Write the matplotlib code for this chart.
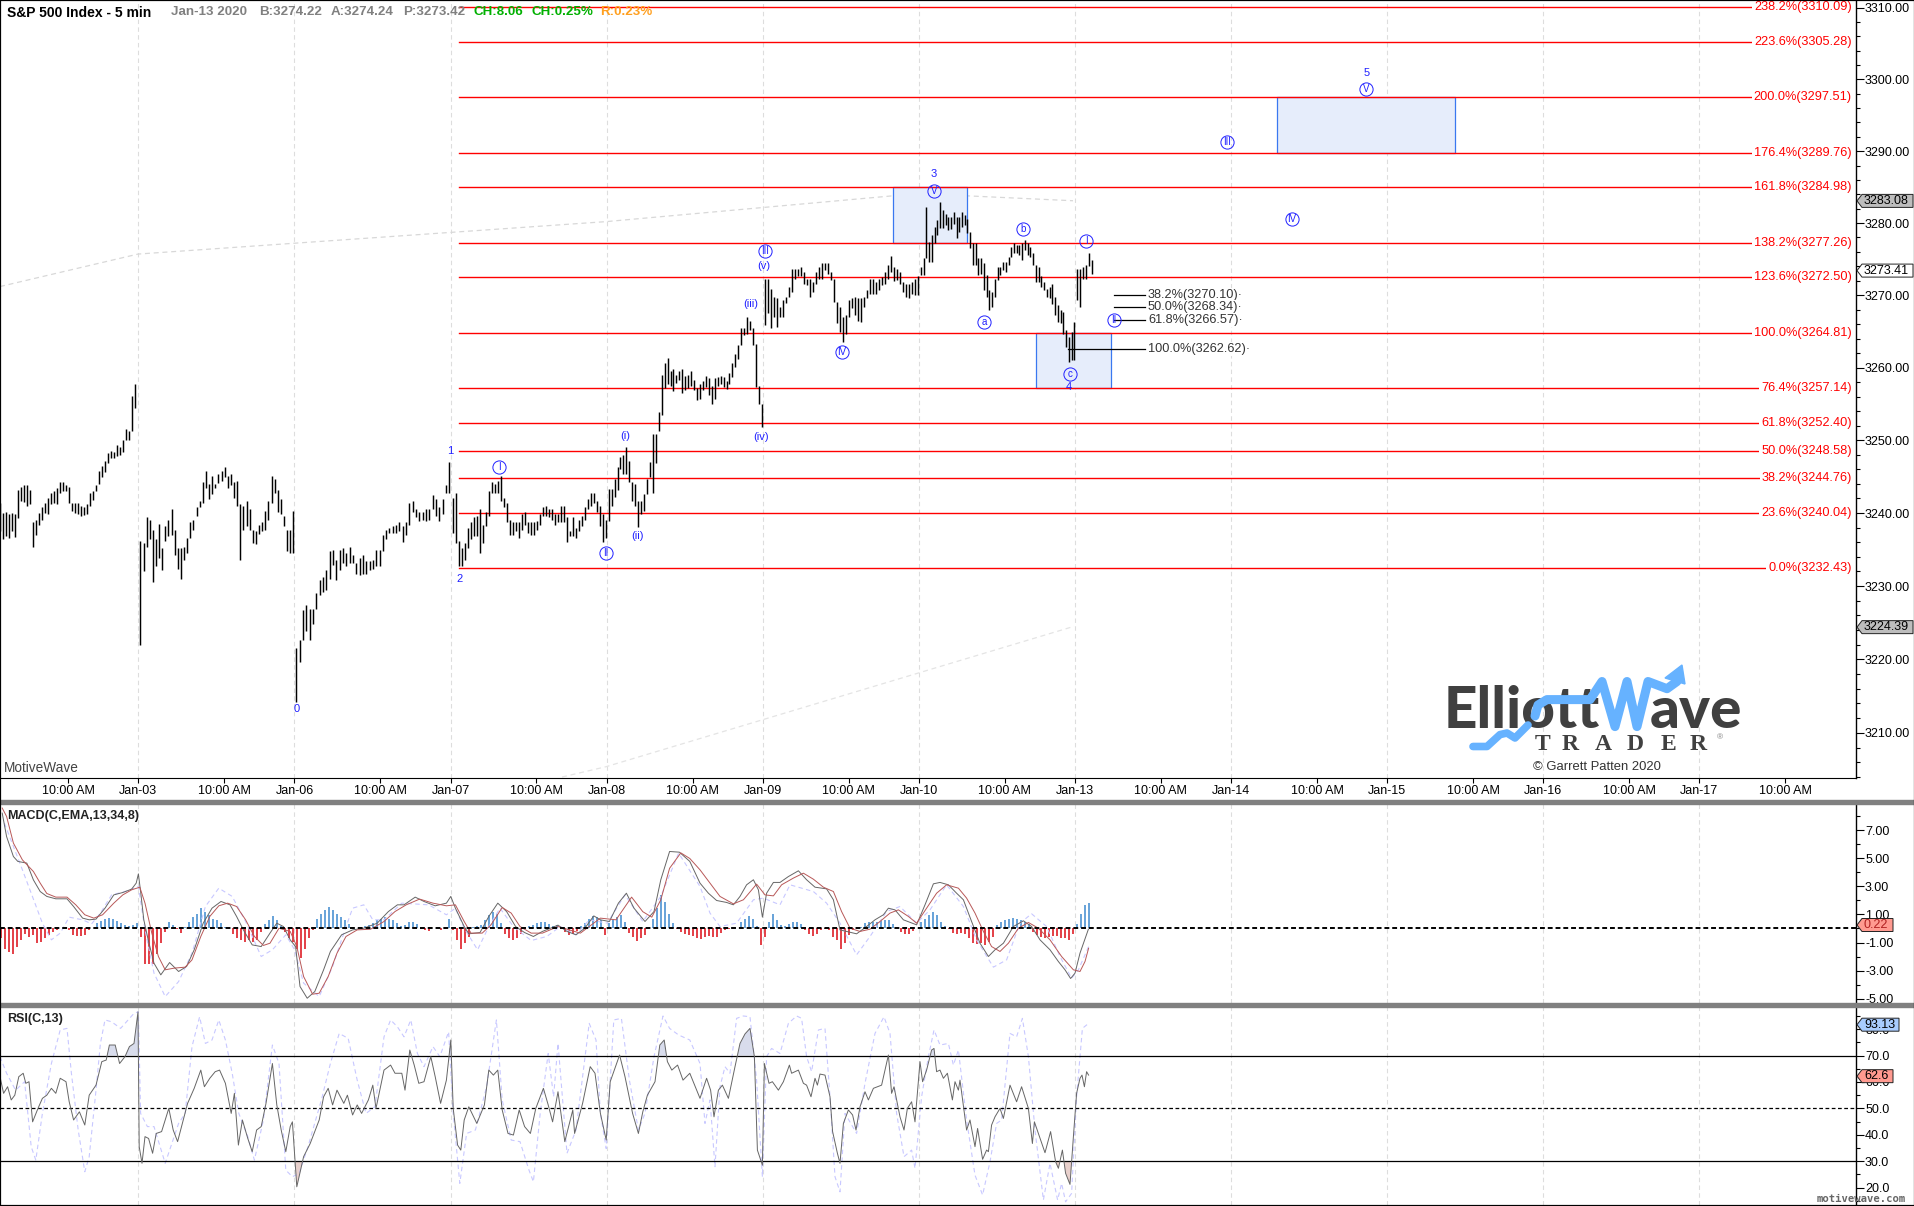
# -*- coding: utf-8 -*-
import matplotlib
matplotlib.use('Agg')
import matplotlib.pyplot as plt
import numpy as np
from matplotlib.lines import Line2D
from matplotlib.patches import Polygon, Rectangle
from matplotlib.ticker import MultipleLocator, FixedLocator, FormatStrFormatter, NullFormatter

plt.rcParams['font.family'] = ['Liberation Sans', 'DejaVu Sans']

W, H = 1915, 1206
BASE = 3200  # bar arrays are points above this
BASE_LATE = 3199.8

# 5 min bars per session, highs and lows above BASE
jan02_high = [41.4,40,40.2,39.8,40,39.8,43.2,43.6,43.8,43.8,43.2,38.8,39,40,40.8,41.4,42,42.8,43,43.4,44.3,44.2,43.8,43.6,41.4,41.4,41.4,41,40.8,41.3,42.8,43,43.8,45.7,46.4,47.2,48.3,48.5,48.4,49.3,49.1,50,51.6,51.3,56.1,57.8]
jan02_low = [37.5,36.5,36.8,36.6,37.5,36.7,39.3,41.6,41.5,41,41.2,35.4,37,38.3,39,40,39.8,41.2,41.4,41.3,42.8,43,43,41.4,40.3,40,39.8,39.6,39.7,39.8,41,41.8,43,44,45,45.6,46.8,47.5,47.5,47.8,48,48.4,50,50,51.3,54.4]
jan03_high = [36.1,35.9,39.4,39.1,37.7,36.4,38.5,35.2,38.2,39.1,40.5,37.7,35.2,35.2,35.4,36.6,38.7,39.1,40.8,41.7,44.2,45.8,44,45.1,44,45.4,45.7,46.3,45.1,45.4,44.2,44.4,41.2,41,41.7,40.5,37.7,37.5,38.4,38.7,40.3,41.7,45.1,44.7,43.1,41.9,39.6,37.7,37.7,40.3]
jan03_low = [22,32,35.4,36.4,30.6,32.7,33.8,32.2,36.1,36.8,37,34.3,32.4,31,33.6,34.5,36.6,37.7,39.6,40.8,41.4,43.5,41.9,42.6,43.5,44.1,44.4,44.9,43.5,43.8,42.1,40.9,33.6,37.7,38.2,37.7,35.9,35.7,37.1,37.5,37.7,39.1,41.4,42.8,40.1,39.8,38.2,34.8,34.5,34.5]
jan06_high = [21.6,22.7,26.7,27.4,26.9,26.9,29,30.8,31.3,32.2,34.8,35,33.6,35,35.2,34.5,35.4,34.3,33.1,33.8,34.3,33.4,33.4,33.6,35,35,37,37.7,38,38.2,38.4,38.7,38.2,38.7,41.4,41.7,40.5,40.1,40.1,40.5,40.5,42.5,41.9,40.8,41.9,43.8,47]
jan06_low = [14.2,19.7,22.7,23.9,22.7,24.8,26.9,28.8,29.2,29.4,31,32.9,30.8,32.2,33.1,32.7,33.1,33.1,31.7,31.5,31.7,31.7,32.2,32.4,32.7,32.7,34.8,36.4,37.3,37.3,37.3,37.5,36,37,38.4,40.1,39.4,38.9,39.1,38.9,39.1,40.5,39.6,38.9,39.8,42.8,42.8]
jan07_high = [42.1,42.8,36.1,35.2,35.9,38,38.7,39.4,39.6,40.5,38.4,40.1,43,44.2,44,44.4,45.1,42.1,41.4,39.1,38.7,38.7,38.7,39.8,40.1,38.7,38.7,38.7,38.9,39.8,40.8,41,40.5,40.5,39.8,39.8,41,41,39.4,37.5,39.4,38,39.1,39.6,40.8,41.9,42.8,42.8,41.7,41,39.8,39.1]
jan07_low = [37.3,35.9,32.7,32.7,33.6,35.2,36.4,36.8,36.8,34.5,35.9,38.2,39.6,42.8,42.8,42.8,41.7,40.8,38.7,37,37,37.5,36.6,37.7,38.4,37.3,37,37,37.7,38.4,39.6,39.6,39.4,39.1,38.4,38.7,38.7,38.7,36,36.8,36.8,36.6,37.5,38.2,39.1,40.5,41,41.4,40.1,38.2,36,36.6]
jan08_high = [43.5,43.5,44.9,46.5,47.9,48.1,49.2,47.4,44.4,44.2,41.9,41.9,42.8,44.9,47.2,51.1,51.1,54.1,59.2,60.8,61.5,59.7,60,59.2,59.7,60,59,59.2,59.7,58.5,57.4,58,58.4,59.1,58.7,57.7,58.7,58.9,59.1,58.9,58.4,59.4,60.8,62.1,63.3,65.6,65.6,67.2,66.7,65.6,63.5,57.7,55.2]
jan08_low = [39.1,41.2,42.4,43.3,46.3,45.6,45.6,44.4,41.9,41.2,38.3,40.1,40.5,42.8,45.1,43,47,51.4,53.7,57.4,58,57.6,57,58.1,58.5,56.7,57.1,57.4,57.6,57.1,55.8,55.9,57.1,57.5,56.4,55.2,55.9,57.7,58,57.5,57.3,58,58.9,60.3,61.4,63.3,64.7,64.9,65.4,63.3,57.5,55.2,52]
jan09_high = [72.5,72.5,71.1,70,69.8,68.6,69.5,70,71.4,73.9,73.9,73.9,74.1,73.4,72.5,72.5,72,73.4,74.1,74.7,74.7,74.6,73.4,72.5,69.3,68.6,67.2,67.4,69.5,69.8,70,69.8,69.8,70,70.9,72.5,72.5,72,72.5,72.7,73.4,74.4,75.7,74.1,73.9,73.4,72,71.8,71.8,72,72.5,72.8]
jan09_low = [66.1,67.7,65.6,67.2,65.8,67.2,67.2,69.1,70,70.7,72.5,72.8,72.8,71.8,71.6,70,70.7,71.8,72.5,72.5,73.7,73.2,72.3,69.3,66.3,65.1,63.8,64.9,67.2,68.4,67.4,66.7,66.5,68.6,69.8,70.4,70.4,70.4,70.9,71.6,71.8,72.5,73.4,72.1,72.3,71.8,70.7,70,69.8,70.4,70.2,70.2]
jan10_high = [74.1,75.3,82.5,77.6,78.5,79.7,80.6,83.1,82,81.5,81,81,81.8,81,81,81.8,81.3,80.8,79,77.4,77.4,75.3,75.3,74.6,73,70.9,70.7,72.5,74.1,74.1,74.8,74.8,75.5,76.9,77.5,77.1,77.1,77.4,77.8,77.4,76.9,76,74.4,74.1,72.8,72,71.1,71.3,71.8,70,68.8,68.1,67.9,65.4,64.4,65.1,66.5]
jan10_low = [73,73,75.3,74.8,74.8,77.4,78.5,79.5,79.5,79.9,79.2,79.4,80.1,78.1,79,79.7,79.9,78.8,76.7,74.4,74.4,73,73.2,70.9,70,68.1,68.6,70,72.3,73,73.7,73.4,74.4,75.5,76,76,75.8,75.1,76.4,75.8,75.5,74.4,72,72,71.4,70.9,70,69.8,69,67.4,66.5,66.3,64.9,63.1,61,61.2,61.2]
jan13_high = [73.9,73.9,74.1,74.4,76,75.1]
jan13_low = [69.5,68.6,72.5,72.5,74.2,73.2]

# fibonacci levels
fib_pct = ['238.2%','223.6%','200.0%','176.4%','161.8%','138.2%','123.6%','100.0%','76.4%','61.8%','50.0%','38.2%','23.6%','0.0%']
fib_price = [3310.09,3305.28,3297.51,3289.76,3284.98,3277.26,3272.50,3264.81,3257.14,3252.40,3248.58,3244.76,3240.04,3232.43]
retr_pct = ['38.2%','50.0%','61.8%','100.0%']
retr_price = [3270.10,3268.34,3266.57,3262.62]

# wave labels: text, bar, price
plain_text = ['0','1','2','3','4','5','(i)','(ii)','(iii)','(iv)','(v)']
plain_bar = [148.2,225,230,467,534.2,683.5,312.7,319,375.2,380.5,382]
plain_price = [3213.2,3248.5,3231,3286.8,3257.3,3300.9,3250.6,3236.9,3268.8,3250.5,3274.1]
circle_text = ['I','II','III','IV','V','a','b','c','I','II','III','IV','V']
circle_bar = [249.5,303,382.7,420.8,467,492,511.7,535,543.2,557,613.5,645.8,683.2]
circle_price = [3246.3,3234.5,3276.1,3262.2,3284.5,3266.3,3279.2,3259.1,3277.5,3266.6,3291.3,3280.6,3298.6]

# target boxes: bar from, bar to, price low, price high
box_bar0 = [446.5,518.2,638.5]
box_bar1 = [483.7,555.3,727.5]
box_low = [3277.26,3257.14,3289.76]
box_high = [3284.98,3264.81,3297.51]

# time projection guides
guide_up_bar = [0,69,303,459,536.5]
guide_up_price = [3271.2,3275.7,3280.2,3284.1,3283.1]
guide_dn_bar = [281,303,537]
guide_dn_price = [3204,3205.4,3224.5]

# time axis, Jan-03 is day 0
day_labels = ['Jan-03','Jan-06','Jan-07','Jan-08','Jan-09','Jan-10','Jan-13','Jan-14','Jan-15','Jan-16','Jan-17']

# MACD
macd_bar = [1.1,3.3,6.7,8.9,13.4,16.7,20.1,23.4,27.9,33.5,36.8,41.3,44.6,48,52.5,56.9,61.4,65.8,68.1,69.2,70.5,71.9,74.1,77,80.4,84.8,89.3,93.3,97.1,101.6,106,110.5,115,118.3,121.7,126.1,130.6,135,138.4,141.7,145.1,147.8,150,153.6,157.4,161.8,165.2,170.8,176.3,181.9,188.6,194.2,198.7,202,207.6,212,217.6,223.2,225.4,227.7,232.1,234.4,240,244.4,248.9,253.3,257.8,262.3,266.7,271.2,279,283.5,288,292.4,296.9,300.2,304.7,309.2,313.2,317,322.5,327,330.4,334.8,339.7,344.9,350,354.2,358.3,363.3,366.7,370,373.3,376.7,379.2,381.2,383.3,386.7,390,394.2,399.2,403.3,407.5,413.3,416.7,420,423.3,428.3,433.3,437.5,441.7,444.2,447.5,451.7,458.3,462.5,466.7,470,474.2,478.3,481.7,485.8,490,494.2,497.5,501.7,506.7,511.7,515.8,520,525,529.2,532.5,535.3,537.5,540,544.2]
macd_val = [8.24,6.56,5.14,4.79,4.67,3.47,2.64,2.29,2.12,2.12,1.57,0.74,0.62,0.67,1.45,2.4,2.57,2.81,3.24,3.9,2.4,0.62,-0.81,-2.48,-3.31,-2.43,-3.07,-2.71,-1.52,0.38,1.45,1.93,1.69,0.86,-0.1,-1.17,-1.29,-0.33,0.38,0.14,-0.81,-1.29,-4.14,-4.98,-4.5,-2.95,-1.64,-0.45,-0.1,0.02,0.38,1.21,1.69,1.69,2.24,1.93,1.62,1.81,2.29,1.45,0.14,-0.38,-0.29,0.86,1.81,1.21,0.14,-0.29,-0.57,-0.21,0.24,-0.21,-0.45,0.02,0.9,0.62,0.5,1.81,2.52,1.45,0.5,1.21,3.48,5.5,5.45,4.79,3.24,2.52,2,1.86,1.69,2.29,3.12,3.48,2.76,0.81,2.52,3.29,3.29,3.71,4.12,3.48,2.95,2.83,2.05,-0.1,-0.21,-0.38,0.14,0.62,0.98,1.45,1.33,0.62,0.26,1.69,3.19,3.29,3.12,2.52,2.05,0.5,-1.05,-2,-1.52,-1.05,0.14,0.55,0.14,-0.81,-1.52,-2.36,-2.95,-3.57,-3.19,-1.76,-0.05]
signal_bar = [1.1,3.3,6.7,11.2,16.7,20.1,23.4,27.9,33.5,37.9,42.4,46.9,51.3,56.9,61.4,65.8,69.9,72.5,75.9,79.2,82.6,87.1,92.6,96,100.4,104.9,109.4,113.8,118.3,122.8,127.2,131.7,135,139.5,145.1,148.4,151.8,156.3,159.6,164.1,168.5,173,178.6,185.3,192,197.5,203.1,209.8,216.5,223.2,227.7,232.1,235.5,241.1,245.5,251.1,255.6,260,265.6,271.2,279,284.6,290.2,294.6,300.2,308,315.8,321.4,325.9,330.4,334.8,340.4,344.9,350,355,360,366.7,371.7,378.3,382.5,386.7,390.8,396.7,401.7,406.7,411.7,416.7,420.8,425,430,435,440,445,449.2,454.2,458.3,463.3,468.3,473.3,479.2,483.3,487.5,491.7,495.8,500,504.2,509.2,514.2,519.2,525,530.8,536.7,540,542.5,544.3]
signal_val = [8.6,8,6.1,4.9,4.07,3.24,2.5,2.24,2.24,1.69,0.98,0.74,0.98,1.81,2.4,2.76,2.95,1.81,-0.33,-2,-2.95,-2.83,-2.76,-2.24,-0.57,0.86,1.62,1.81,1.57,0.62,-0.57,-1.21,-1.05,0.02,-0.21,-1.29,-3.43,-4.69,-4.62,-3.43,-1.76,-0.57,-0.1,-0.05,0.5,1.21,1.69,2.1,1.81,1.62,1.69,0.5,-0.33,-0.33,0.26,1.5,1.1,0.14,-0.33,-0.33,0.14,-0.1,-0.33,0.14,0.74,0.62,2.24,1.2,0.81,2.05,4.3,5.4,5,4.19,3.24,2.29,1.76,2.05,3.17,2.4,2.33,3.12,3.6,3.95,3.52,2.95,2.64,1.21,0.02,-0.21,-0.05,0.5,1.1,1.33,0.86,0.38,1.45,2.52,3.12,2.88,2.17,1.1,-0.21,-1.29,-1.64,-1.05,0.02,0.43,0.02,-0.81,-2,-2.95,-3.07,-2.36,-1.41]
macd_fast_bar = [2.2,6.7,11.2,15.6,21.2,25.7,30.1,34.6,41.3,45.8,50.2,55.8,62.5,69.2,72.5,77,82.6,89.3,96,102.7,109.4,116.1,122.8,130.6,136.2,142.9,147.3,151.8,159.6,166.3,171.9,176.3,181.9,186.4,192,200.9,214.3,223.2,227.7,232.1,238.8,244.4,250,256.7,265.6,273.4,280.1,288,294.6,303.6,312.5,321.4,330.4,339.3,350,355,360,368.3,376.7,381.7,390,395,406.7,413.3,420,428.3,435,443.3,450,458.3,465,473.3,481.7,488.3,496.7,503.3,510,515.8,523.3,530,535.8,539.2,544.3]
macd_fast_val = [7.52,5.86,4.19,2.52,0.38,-0.81,-0.33,0.81,0.62,0.33,1.1,2.4,2.64,3,-0.1,-3.19,-4.86,-3.79,-1.76,1.57,2.88,2.29,0.5,-2,-1.52,-0.45,-1.52,-3.9,-4.86,-2.71,-0.33,1.45,1.69,0.62,0.62,1.81,1.69,0.98,1.45,0.02,-1.52,0.14,1.45,0.14,-0.86,-0.57,0.14,-0.45,0.62,0.38,2.4,0.5,2.29,5.38,3,1.1,0.14,0.38,2.05,2.17,1.69,3.12,2.64,1.81,0.38,-1.88,-0.57,1.21,1.57,0.38,1.33,3.12,1.57,-0.81,-2.76,-2.24,0.38,1.05,0.14,-2,-3.55,-2.95,-1.29]
# histogram, one value every 2 bars from the left edge
macd_hist = [-0.71,-1.43,-1.67,-1.79,-1.31,-0.83,-0.36,-0.6,-0.48,-1.07,-0.95,-0.67,-0.48,-0.24,-0.12,0,0.07,-0.12,-0.48,-0.52,-0.52,-0.48,-0.12,0.07,0.36,0.52,0.71,0.76,0.71,0.52,0.36,0.24,0.19,0.24,0.36,-0.6,-2.5,-2.5,-2.5,-1.79,-1.07,-0.24,0.48,0.24,-0.07,-0.29,0.12,0.48,0.83,1.07,1.43,1.19,0.95,0.71,0.6,0.36,0.12,-0.07,-0.36,-0.71,-0.83,-0.95,-0.83,-0.95,-0.83,-0.24,0.29,0.6,0.9,0.6,0.19,-0.24,-0.71,-0.95,-1.43,-2.14,-1.43,-0.71,-0.12,0.71,1.07,1.31,1.55,1.31,1.07,0.83,0.6,0.29,0.12,0.07,0.12,0.19,0.24,0.36,0.6,0.71,0.83,0.71,0.6,0.36,0.19,0.24,0.43,0.43,0.29,-0.07,-0.12,-0.19,0,0.02,-0.12,-0.05,0.71,-0.12,-0.83,-1.43,-1.07,-0.6,0.12,0.19,0.24,0.6,0.95,1.19,1.07,0.36,-0.36,-0.71,-0.83,-0.71,-0.36,0.07,0.19,0.24,0.36,0.48,0.43,0.29,0.19,0.24,0.12,-0.24,-0.43,-0.36,-0.19,0.19,0.36,0.71,0.9,0.83,0.6,-0.48,0.36,0.6,0.83,0.95,0.48,-0.29,-0.6,-0.9,-0.71,-0.48,0.12,0.71,1.43,2.38,1.9,1.07,0.36,-0.07,-0.24,-0.36,-0.48,-0.52,-0.71,
             -0.76,-0.6,-0.52,-0.6,-0.6,-0.29,-0.12,-0.07,-0.05,0.07,0.43,0.71,0.9,0.71,0.19,-1.19,-0.6,0.48,1,0.6,0.24,0.19,0.29,0.43,0.43,0.29,-0.12,-0.36,-0.52,-0.36,-0.12,-0.05,-0.12,-0.6,-0.83,-1.43,-1.07,-0.48,-0.12,-0.05,0.12,0.36,0.43,0.43,0.48,0.52,0.6,0.6,0.29,0.07,-0.24,-0.4,-0.36,-0.19,0.07,0.43,0.71,0.95,1.19,0.95,0.48,0.19,-0.07,-0.29,-0.36,-0.29,-0.36,-0.71,-1,-1.14,-1.07,-1.19,-0.95,-0.6,0.24,0.48,0.6,0.67,0.76,0.67,0.6,0.48,0.29,-0.24,-0.48,-0.6,-0.67,-0.6,-0.52,-0.52,-0.67,-0.67,-0.83,-0.36,0.29,1.07,1.71,1.79]

# RSI
rsi_bar = [0,1.8,3.8,5.6,7.4,9.4,11.6,12.9,14.5,16.3,19,21.2,23.4,25.7,27.9,30.1,33,34.6,36.8,39.7,42.4,44.6,48,50.9,53.1,54.7,57.6,59.8,62.5,64.7,67,69,69.6,71,72.5,74.3,76.3,78.1,80.8,84.4,86.6,88.8,93.8,97.1,100.4,102.2,104.9,107.6,109.8,112.7,115.6,117.2,119.2,121.2,123.9,126.1,128.3,130.6,133,136.2,138.4,140.6,142.9,145.1,146.2,148.4,151.8,155.1,159.6,161.8,164.1,166.3,168.5,171.9,173.7,176.3,178.6,180.8,184.2,186.4,188,192,195.3,197.5,200.9,202.5,204.9,207.1,209.4,212,215.4,217.6,220.3,223.2,225.4,226.6,228.8,230.4,232.1,234.4,238.4,242.2,244.4,246.7,248.9,251.1,254,256.7,259.6,262.3,265.2,267.9,271.7,274.1,276.3,279,282.4,286.4,287.3,291.3,295.1,297.5,300.2,303.1,305.1,309.8,312.5,316.3,319.2,321.4,323.7,327.5,329.9,332.1,333.7,335.9,338.8,341.5,344.9,350,
           353.3,355.3,357,359.2,361.2,364.2,367.5,370,372.5,375,377.2,378.7,381.2,382.2,384.5,386.2,389.2,391.7,394.7,395.8,399.2,401.7,403.3,405.5,407.5,408.7,410,412.5,415,416.3,418.7,420,421.7,424.2,426.3,428,430,432.5,434.2,436.7,440.8,444.2,445.8,447,450,452,453.7,455.8,457.5,460,461.3,463.3,465.8,467,468.3,470,471.7,473.7,476.2,477.5,479.2,480,483.3,485,487.5,488.8,491.3,493.3,494.2,495.8,497.5,500,501.7,505,508.3,510.8,514.2,516.2,517.2,522.5,525.3,527.8,529.2,531.2,532.8,535,536.7,538.3,540,541,542.2,543.3,544.3]
rsi_val = [62,55.7,58.2,53.2,55,62,63.3,59.5,60.1,44.9,50,53.8,55,57.6,55.7,61.4,60.1,52.5,45.6,48.7,43.7,55,58.8,67.7,68.3,74,74,67,69.6,73.4,74.6,86.6,35.5,29.2,39.3,38.6,33,40.5,41.2,50,41.8,37.4,51.9,57.6,64.5,58.2,61.4,63.9,64.5,59.5,48.1,55.7,36.1,45.6,38.6,33.6,41.8,43.1,51.9,67,51.3,41.8,33.6,43.1,44.9,20.3,31.7,36.7,45.6,54.4,57.6,51.3,56.9,51.9,55,47.5,51.3,48.1,53.2,58.8,50,64.5,66.4,63.3,63.3,56.9,72.1,66.4,59.5,60.1,69.6,62,51.9,60.7,75.9,50,36.1,34.2,45.6,50.6,44.3,51.3,64.5,62.6,64.5,49.4,40.5,39.9,49.4,43.1,40.5,50,57.6,51.3,44.9,56.3,37.4,49.4,40.5,51.9,65.8,63.3,48.1,38,60.1,70.2,62,48.1,40.5,48.7,55,60.1,74,75.9,67.7,64.5,66.4,60.7,63.3,53.8,
           61.4,56.9,46.8,56.9,58.8,53.8,65.8,74.6,78.2,80.3,69.6,34.2,28.5,67,59.5,60.1,56.9,60.1,66.4,63.3,64.5,59.5,58.8,54.4,61.4,58.8,63,62.6,54.4,41.2,33,29.2,44.3,49.4,47.5,41.8,50.6,56.3,53.2,57.6,58.8,70.2,55.7,58.2,46.8,41.8,50,52.5,44.9,67.7,60.1,64.5,72.1,72.7,63.9,64.5,61.4,63.3,53.2,60.1,56.9,60.7,41.8,45.6,35.5,42.4,30.7,34.2,33.6,43.7,46.8,50,46.2,58.8,52.5,58.2,50,36.7,44.9,33.2,41.2,29.8,27.3,34.2,25.4,21.2,39.3,55.7,61.4,62.6,58.2,63.9,62.6]
rsi_fast_bar = [0,3.3,7.8,12.3,15.6,17.9,21.2,25.7,27.9,30.1,33.5,35.7,39.1,42.4,44.6,48,50.2,52.5,55.8,60.3,67,69.2,70.3,73.7,77,82.6,85.9,89.3,92.6,96,99.8,102.7,106,109.4,112.7,116.1,119.4,123.9,127.2,131.7,136.2,139.5,142.9,146.2,149.6,154,160.7,165.2,169.6,174.1,178.6,183,187.5,192,195.3,198.7,202,205.4,208.7,212,216.5,219.9,224.3,226.6,229.9,233.3,237.7,243.3,248.2,251.1,255.6,260,264.5,266.7,270.1,274.1,276.8,279,283.5,288,294.6,298,300.2,303.1,306.9,310.7,314.7,319.2,322.5,327,331.5,334.8,339.3,344.9,350,
                352.5,355,357.5,360,362.5,365,368.3,371.7,375,378.3,381.2,383.3,385.8,390,394.2,398.3,400.8,403.3,405.8,409.2,412.5,415,417.5,420,422.5,428.3,432.5,437.5,442,445,448.3,452,455.8,457.5,460.8,464.2,467,470,474.2,476.7,479.2,483.3,487.5,491.3,495,498.3,500.8,505,508.3,511.2,514.2,517.5,521.7,525,528.8,530.8,532.8,535.8,538.3,541.2,544.3]
rsi_fast_val = [69.6,63.3,56.9,60.1,35.5,30.4,48.1,67,73.4,79.7,80.3,63.3,41.8,26,31.7,56.9,74.6,83.5,82.8,80.3,86,86.6,48.1,43.1,43.1,29.2,36.7,44.3,48.1,73.4,84.7,74.6,75.9,83.5,75.9,63.3,48.1,39.3,30.4,45.6,74,67,26.6,24.1,25.4,35.5,53.2,67,78.4,76.5,60.7,48.1,50.6,77.1,83.5,80.9,77.1,83.5,70.8,65.8,73.4,69.6,79,48.1,21.6,40.5,41.8,58.2,83.5,53.2,38,37.4,26.6,22.2,48.1,70.8,54.4,74.6,33,41.8,82.2,75.9,48.1,34.8,83.5,84.1,60.7,41.8,48.1,69.6,85,80.3,77.8,75.9,67,
                44.3,53.2,27.9,58.2,65.8,63.3,84.1,85,84.7,60.7,24.1,69.6,72.7,70.8,82.2,85,84.1,69.6,63.9,79.7,80.3,54.4,24.1,18.4,48.1,40.5,59.5,78.4,84.7,78.4,48.1,31.7,34.2,27.3,54.4,69.6,79.7,74,74.6,66.4,72.1,45.6,24.7,17.2,29.8,44.3,45.6,78.4,77.1,84.1,69.6,41.8,15.3,29.2,15.3,21.6,14.6,17.8,54.4,80.3,82.2]


def fx(x):
    return x / W


def fy(y):
    return 1 - y / H


def make_axes(y0, y1):
    return fig.add_axes([0, fy(y1), fx(1856), (y1 - y0) / H])


def day_bar(d):
    return 69.2 + 78.05 * d


def tag(ax, pos, label, face, width, color='black'):
    # value flag in the right gutter
    y = H - ax.transData.transform((0, pos))[1]
    pts = [(1857, y), (1862, y - 6.5), (1857 + width, y - 6.5), (1857 + width, y + 6.5), (1862, y + 6.5)]
    fig.add_artist(Polygon([(fx(a), fy(b)) for a, b in pts], closed=True, facecolor=face, edgecolor='#222222',
                           linewidth=0.7, transform=fig.transFigure, zorder=5))
    fig.text(fx(1864), fy(y), label, fontsize=9, color=color, va='center', ha='left', zorder=6)


fig = plt.figure(figsize=(W / 100, H / 100), dpi=100, facecolor='white')
ax1 = make_axes(0, 778)
ax2 = make_axes(804, 1003)
ax3 = make_axes(1007, 1205)

# price scale of the chart is logarithmic
ax1.set_yscale('log')

for ax in [ax1, ax2, ax3]:
    ax.set_xlim(0, 928)
    for s in ['top', 'left', 'bottom']:
        ax.spines[s].set_visible(False)
    ax.spines['right'].set_linewidth(1)
    ax.yaxis.tick_right()
    ax.tick_params(axis='y', which='major', length=5.5, width=0.8, pad=1, labelsize=9)
    ax.tick_params(axis='y', which='minor', length=3, width=0.8)
    ax.set_xticks([])
    for d in range(len(day_labels)):
        ax.axvline(day_bar(d), color='#dddddd', lw=0.8, ls=(0, (4, 3)), zorder=0)

# ---------- price panel ----------
ax1.set_ylim(3203.87, 3311.11)
ax1.spines['bottom'].set_visible(True)
ax1.yaxis.set_major_locator(MultipleLocator(10))
ax1.yaxis.set_minor_locator(MultipleLocator(2))
ax1.yaxis.set_major_formatter(FormatStrFormatter('%.2f'))
ax1.yaxis.set_minor_formatter(NullFormatter())
x_ticks = []
x_labels = []
for d, lab in enumerate(day_labels):
    x_ticks.append(day_bar(d - 0.45))
    x_labels.append('10:00 AM')
    x_ticks.append(day_bar(d))
    x_labels.append(lab)
x_ticks.append(day_bar(10.55))
x_labels.append('10:00 AM')
ax1.set_xticks(x_ticks)
ax1.set_xticklabels(x_labels)
ax1.tick_params(axis='x', length=3.6, width=0.8, pad=1.5, labelsize=9)

ax1.plot(guide_up_bar, guide_up_price, color='#d8d8d8', lw=0.9, ls=(0, (4, 3)), zorder=1)
ax1.plot(guide_dn_bar, guide_dn_price, color='#e4e4e4', lw=0.9, ls=(0, (4, 3)), zorder=1)

for b0, b1, lo, hi in zip(box_bar0, box_bar1, box_low, box_high):
    ax1.add_patch(Rectangle((b0, lo), b1 - b0, hi - lo, facecolor='#e6edfb', edgecolor='#3a78f0', lw=0.9, zorder=1.5))

for p, v in zip(fib_pct, fib_price):
    ax1.plot([229.5, 924], [v, v], color='#ff0000', lw=1.0, zorder=2)
    ax1.text(926, v, '%s(%.2f)' % (p, v), color='#ff0000', fontsize=9.2, ha='right', va='center', zorder=3,
             bbox=dict(facecolor='white', edgecolor='none', pad=1.5))

# price bars by session
sessions = [(jan03_high, jan03_low, 0, BASE), (jan06_high, jan06_low, 1, BASE), (jan07_high, jan07_low, 2, BASE),
            (jan08_high, jan08_low, 3, BASE_LATE), (jan09_high, jan09_low, 4, BASE_LATE),
            (jan10_high, jan10_low, 5, BASE_LATE)]
step = 78.05 / 52
x02 = day_bar(0) - step * (len(jan02_high) - np.arange(len(jan02_high)))
ax1.vlines(x02, BASE + np.array(jan02_low), BASE + np.array(jan02_high), color='black', lw=1.05, zorder=2.5)
for hi, lo, d, base in sessions:
    xs = np.linspace(day_bar(d), day_bar(d + 1), len(hi), endpoint=False) + 1
    ax1.vlines(xs, base + np.array(lo), base + np.array(hi), color='black', lw=1.05, zorder=2.5)
x13 = day_bar(6) + 1 + step * np.arange(len(jan13_high))
ax1.vlines(x13, BASE_LATE + np.array(jan13_low), BASE_LATE + np.array(jan13_high), color='black', lw=1.05, zorder=2.5)

for t, b, p in zip(plain_text, plain_bar, plain_price):
    ax1.text(b, p, t, color='#2020ff', fontsize=8, ha='center', va='center', zorder=4)
ax1.plot(circle_bar, circle_price, ls='none', marker='o', ms=9.5, mfc='none', mec='#2020ff', mew=0.7, zorder=4)
for t, b, p in zip(circle_text, circle_bar, circle_price):
    ax1.text(b, p, t, color='#2020ff', fontsize=7, ha='center', va='center', zorder=4)

for p, v in zip(retr_pct, retr_price):
    start = 534.2 if p == '100.0%' else 557
    ax1.plot([start, 572.5], [v, v], color='black', lw=0.9, zorder=3)
    ax1.text(574, v, '%s(%.2f)·' % (p, v), color='#333333', fontsize=9.2, ha='left', va='center', zorder=3.5,
             bbox=dict(facecolor='white', edgecolor='none', pad=0.6))

# ---------- MACD panel ----------
ax2.set_ylim(-5.32, 8.89)
ax2.yaxis.set_major_locator(FixedLocator([-5, -3, -1, 1, 3, 5, 7]))
ax2.yaxis.set_minor_locator(MultipleLocator(1))
ax2.yaxis.set_major_formatter(FormatStrFormatter('%.2f'))
hist = np.array(macd_hist)
hist_x = np.arange(len(hist)) * 2 + 0.5
ax2.vlines(hist_x[hist > 0], 0, hist[hist > 0], color='#5b9bd5', lw=1.3, zorder=2)
ax2.vlines(hist_x[hist < 0], 0, hist[hist < 0], color='#e03038', lw=1.3, zorder=2)
ax2.plot(macd_fast_bar, macd_fast_val, color='#c8c8ff', lw=0.8, ls=(0, (4, 3)), zorder=2.5)
ax2.plot(macd_bar, macd_val, color='#666666', lw=0.7, zorder=3)
ax2.plot(signal_bar, signal_val, color='#b85858', lw=0.7, zorder=3)
ax2.axhline(0, color='black', lw=1.4, ls=(0, (2.5, 1.5)), zorder=3.5)

# ---------- RSI panel ----------
ax3.set_ylim(13.4, 88.4)
ax3.yaxis.set_major_locator(MultipleLocator(10))
ax3.yaxis.set_minor_locator(MultipleLocator(5))
ax3.yaxis.set_major_formatter(FormatStrFormatter('%.1f'))
rb = np.array(rsi_bar)
rv = np.array(rsi_val)
ax3.fill_between(rb, 70, rv, where=rv > 70, interpolate=True, color='#d8dcec', lw=0, zorder=1)
ax3.fill_between(rb, 30, rv, where=rv < 30, interpolate=True, color='#e8d0cc', lw=0, zorder=1)
ax3.plot(rsi_fast_bar, rsi_fast_val, color='#c8c8ff', lw=0.8, ls=(0, (4, 3)), zorder=2)
ax3.plot(rb, rv, color='#666666', lw=0.7, zorder=3)
ax3.axhline(70, color='black', lw=0.9, zorder=2.5)
ax3.axhline(30, color='black', lw=0.9, zorder=2.5)
ax3.axhline(50, color='black', lw=0.9, ls=(0, (3, 2)), zorder=2.5)

# ---------- panel separators, frame, headers ----------
fig.add_artist(Rectangle((0, fy(804)), 1, 4 / H, color='#808080', transform=fig.transFigure, zorder=4))
fig.add_artist(Rectangle((0, fy(1007)), 1, 4 / H, color='#808080', transform=fig.transFigure, zorder=4))
fig.add_artist(Rectangle((0, 0), 1, 1, fill=False, edgecolor='black', lw=1.6, transform=fig.transFigure, zorder=4))

fig.text(fx(7), fy(13), 'S&P 500 Index - 5 min', fontsize=10, fontweight='bold', va='center', zorder=6)
info_text = ['Jan-13 2020', 'B:3274.22', 'A:3274.24', 'P:3273.42', 'CH:8.06', 'CH:0.25%', 'R:0.23%']
info_x = [171, 259, 331, 403, 474, 532, 600]
info_col = ['#808080', '#808080', '#808080', '#808080', '#00b000', '#00b000', '#ffa020']
for t, x, c in zip(info_text, info_x, info_col):
    fig.text(fx(x), fy(12), t, fontsize=9.6, fontweight='bold', color=c, va='center', zorder=6)
fig.text(fx(7), fy(816), 'MACD(C,EMA,13,34,8)', fontsize=9, fontweight='bold', color='#222222', va='center', zorder=6)
fig.text(fx(7), fy(1019), 'RSI(C,13)', fontsize=9, fontweight='bold', color='#222222', va='center', zorder=6)
fig.text(fx(4), fy(768), 'MotiveWave', fontsize=9.8, color='#444444', va='center', zorder=6)
fig.text(fx(1817), fy(1199), 'motivewave.com', fontsize=7.6, fontweight='bold', family='DejaVu Sans Mono',
         color='#666666', va='center', zorder=6)

# value flags
tag(ax1, 3283.08, '3283.08', '#bdbdbd', 56)
tag(ax1, 3273.41, '3273.41', 'white', 56)
tag(ax1, 3224.39, '3224.39', '#bdbdbd', 56)
tag(ax2, 0.25, '0.22', '#ff9a90', 36, '#b02020')
tag(ax3, 81.7, '93.13', '#a8ccff', 42)
tag(ax3, 62.2, '62.6', '#ff9a90', 36)

# ---------- logo ----------
fig.text(fx(1444), fy(728), 'Elliott', fontsize=42, fontweight='black', family='Lato', color='#404040',
         va='baseline', zorder=6)
fig.text(fx(1650), fy(728), 'ave', fontsize=42, fontweight='black', family='Lato', color='#404040',
         va='baseline', zorder=6)
swoosh_a = [(1473, 746.5), (1487, 746.5), (1500, 734.6), (1507, 733), (1515, 738), (1528, 725)]
swoosh_b = [(1535, 716), (1538, 705), (1547, 699.6), (1590, 699.6), (1602, 681.5), (1615, 726.6), (1627, 681.5),
            (1637, 726.6), (1648, 681.5), (1667, 688.7), (1677, 681.5)]
for piece, lw in [(swoosh_a, 5.5), (swoosh_b, 6.5)]:
    fig.add_artist(Line2D([fx(a) for a, b in piece], [fy(b) for a, b in piece], color='#66b2ff', lw=lw,
                          solid_capstyle='round', solid_joinstyle='round', transform=fig.transFigure, zorder=7))
fig.add_artist(Polygon([(fx(1682), fy(665)), (fx(1665), fy(678)), (fx(1685), fy(684))], closed=True, color='#66b2ff',
                       transform=fig.transFigure, zorder=7))
for ch, x in zip('TRADER', [1543, 1570, 1603, 1635, 1668, 1698]):
    fig.text(fx(x), fy(744), ch, fontsize=17, fontweight='bold', family='Liberation Serif', color='#404040',
             ha='center', va='center', zorder=6)
fig.text(fx(1720), fy(738), '®', fontsize=6, color='#808080', ha='center', va='center', zorder=6)
fig.text(fx(1533), fy(767), '© Garrett Patten 2020', fontsize=9.4, color='#333333', va='center', zorder=6)

fig.savefig('out.png', dpi=100)
